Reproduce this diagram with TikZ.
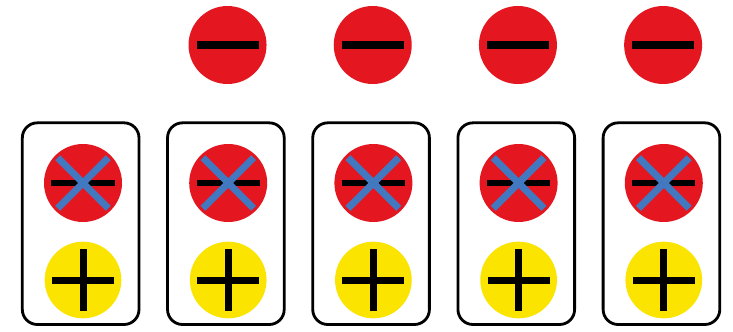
\documentclass[tikz,border=0pt]{standalone}
\usepackage{xcolor}
\usepackage{tikz}
\usetikzlibrary{calc}
\definecolor{signred}{RGB}{228, 22, 32}
\definecolor{signyellow}{RGB}{250, 228, 0}
\definecolor{crossblue}{RGB}{66, 120, 192}

\begin{document}
\begin{tikzpicture}[
  redsign/.style={circle, fill=signred, draw=none, minimum size=2.34cm, inner sep=0pt},
  yellowsign/.style={circle, fill=signyellow, draw=none, minimum size=2.3cm, inner sep=0pt},
  framebox/.style={rectangle, draw=black, fill=white, rounded corners=4.5mm, line width=2.4pt, minimum width=3.5cm, minimum height=6.05cm, inner sep=0pt},
  minusbar/.style={line width=0.22cm, color=black},
  plusbar/.style={line width=0.21cm, color=black},
  crossbar/.style={line width=0.21cm, color=crossblue}
]

% Canvas
\useasboundingbox[fill=white] (0, 0) rectangle (21.99, -9.96);

% Top row: plain minus signs
\foreach \i in {1,...,4} {
  \node[redsign] (top\i) at (2.47+4.356*\i, -1.35) {};
  \draw[minusbar] ($(top\i.center)+(-0.93, 0)$) -- ($(top\i.center)+(0.93, 0)$);
}

% Bottom row: framed crossed-out minus over plus
\foreach \i in {0,...,4} {
  \node[framebox] (box\i) at (2.42+4.356*\i, -6.71) {};
  \node[redsign] (neg\i) at (2.49+4.356*\i, -5.49) {};
  \draw[minusbar, line width=0.18cm] ($(neg\i.center)+(-0.95, 0)$) -- ($(neg\i.center)+(0.95, 0)$);
  \draw[crossbar] ($(neg\i.center)+(-0.76, 0.76)$) -- ($(neg\i.center)+(0.76, -0.76)$);
  \draw[crossbar] ($(neg\i.center)+(-0.76, -0.76)$) -- ($(neg\i.center)+(0.76, 0.76)$);
  \node[yellowsign] (pos\i) at (2.49+4.356*\i, -8.4) {};
  \draw[plusbar] ($(pos\i.center)+(-0.93, 0)$) -- ($(pos\i.center)+(0.93, 0)$);
  \draw[plusbar] ($(pos\i.center)+(0, 0.93)$) -- ($(pos\i.center)+(0, -0.93)$);
}

\end{tikzpicture}
\end{document}
